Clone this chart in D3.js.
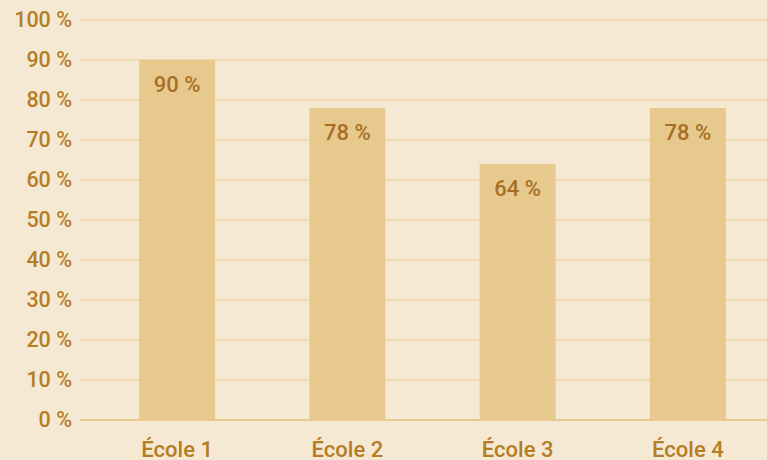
<!DOCTYPE html>
<html>
<head>
<meta charset="utf-8">
<script src="https://cdn.jsdelivr.net/npm/d3@7"></script>
<style>
  body { margin: 0; background: #f5e9d4; }
  svg { display: block; }
</style>
</head>
<body>
<div id="chart"></div>
<script>
// Chart size
const w = 767;
const h = 460;

// Data
const schools = ["École 1", "École 2", "École 3", "École 4"];
const rates = [90, 78, 64, 78];
const yTicks = [0, 10, 20, 30, 40, 50, 60, 70, 80, 90, 100];

const svg = d3.select("#chart")
    .append("svg")
    .attr("width", w)
    .attr("height", h);

svg.append("rect")
    .attr("width", w)
    .attr("height", h)
    .attr("fill", "#f5e9d4");

// Scales
const xScale = d3.scaleBand()
    .domain(schools)
    .range([92, 773])
    .paddingInner(0.554)
    .paddingOuter(0.277);

const yScale = d3.scaleLinear()
    .domain([0, 100])
    .range([420, 20]);

// Grid lines
svg.append("g")
    .selectAll("line")
    .data(yTicks)
    .enter()
    .append("line")
    .attr("x1", 80)
    .attr("x2", w)
    .attr("y1", d => yScale(d))
    .attr("y2", d => yScale(d))
    .attr("stroke", d => d === 0 ? "#e8c990" : "#eed5a8")
    .attr("stroke-width", d => d === 0 ? 2 : 1.5);

// Y axis labels
const yAxis = d3.axisLeft(yScale)
    .tickValues(yTicks)
    .tickFormat(d => d + " %")
    .tickSize(0)
    .tickPadding(8);

svg.append("g")
    .attr("transform", "translate(80,0)")
    .call(yAxis)
    .call(g => g.select(".domain").remove())
    .selectAll("text")
    .attr("font-family", "Roboto, sans-serif")
    .attr("font-weight", 500)
    .attr("font-size", "21.5px")
    .attr("fill", "#b57d25");

// Bars
svg.append("g")
    .selectAll("rect")
    .data(rates)
    .enter()
    .append("rect")
    .attr("x", (d, i) => xScale(schools[i]))
    .attr("y", d => yScale(d))
    .attr("width", xScale.bandwidth())
    .attr("height", d => yScale(0) - yScale(d))
    .attr("fill", "#e7c98e");

// Value labels
svg.append("g")
    .selectAll("text")
    .data(rates)
    .enter()
    .append("text")
    .text(d => d + " %")
    .attr("x", (d, i) => xScale(schools[i]) + xScale.bandwidth() / 2)
    .attr("y", d => yScale(d) + 32)
    .attr("text-anchor", "middle")
    .attr("font-family", "Roboto, sans-serif")
    .attr("font-weight", 500)
    .attr("font-size", "22px")
    .attr("fill", "#a86e24");

// X axis labels
const xAxis = d3.axisBottom(xScale)
    .tickSize(0);

svg.append("g")
    .attr("transform", "translate(0,420)")
    .call(xAxis)
    .call(g => g.select(".domain").remove())
    .selectAll("text")
    .attr("y", 37)
    .attr("dy", 0)
    .attr("font-family", "Roboto, sans-serif")
    .attr("font-weight", 500)
    .attr("font-size", "22px")
    .attr("fill", "#b57d25");
</script>
</body>
</html>
